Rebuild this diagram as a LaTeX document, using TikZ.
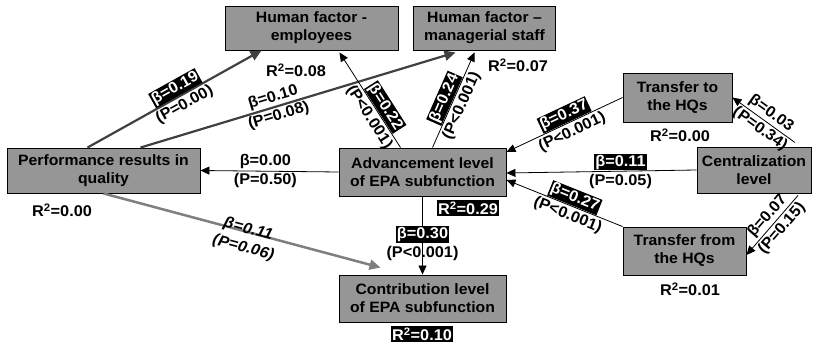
\documentclass[tikz,border=0pt]{standalone}
\usepackage{fontspec}
\setmainfont{Liberation Sans}[FakeStretch=1.05]
\usepackage{tikz}
\usetikzlibrary{arrows.meta}
\usepackage{xcolor}

\definecolor{boxgray}{HTML}{969696}
\definecolor{darkline}{HTML}{404040}
\definecolor{midline}{HTML}{7F7F7F}
\setlength{\fboxsep}{1pt}
\newcommand{\blk}[1]{\colorbox{black}{\textcolor{white}{#1}}}

\begin{document}
\begin{tikzpicture}[
    x=1pt, y=-1pt,
    font=\fontsize{15.5}{19}\selectfont\bfseries,
    var/.style={draw, fill=boxgray, line width=0.9pt, align=center, inner sep=0pt,
        minimum height=45pt, font=\fontsize{15}{18}\selectfont\bfseries},
    coef/.style={align=center, inner sep=0pt},
    tilt/.style={coef, sloped},
    rsq/.style={inner sep=1.5pt},
    rsqblk/.style={fill=black, text=white, inner sep=1.5pt},
    link/.style={line width=0.8pt, -{Triangle[length=9pt,width=8pt]}},
    strong/.style={draw=darkline, line width=2.2pt, -{Triangle[length=11pt,width=10pt]}},
    weak/.style={draw=midline, line width=2.5pt, -{Triangle[length=11pt,width=10pt]}}
]
\useasboundingbox (0,0) rectangle (818,347);

% Variables placed manually
\node[var, minimum width=173pt, minimum height=44pt] (emp) at (311.5,28) {Human factor -\\employees};
\node[var, minimum width=142pt, minimum height=44pt] (mgr) at (484.5,28) {Human factor –\\managerial staff};
\node[var, minimum width=193pt] (perf) at (103.5,170.5) {Performance results in\\quality};
\node[var, minimum width=167pt, minimum height=48pt] (adv) at (422.5,172) {Advancement level\\of EPA subfunction};
\node[var, minimum width=167pt, minimum height=47pt] (contrib) at (422.5,298.5) {Contribution level\\of EPA subfunction};
\node[var, minimum width=109pt, minimum height=49pt] (hqto) at (677.5,97.5) {Transfer to\\the HQs};
\node[var, minimum width=114pt, minimum height=46pt] (central) at (754,170) {Centralization\\level};
\node[var, minimum width=123pt, minimum height=48pt] (hqfrom) at (684.5,251) {Transfer from\\the HQs};

% R squared
\node[rsq] (r-emp) at (296,70) {R\textsuperscript{2}=0.08};
\node[rsq] (r-mgr) at (518,65) {R\textsuperscript{2}=0.07};
\node[rsq] (r-hqto) at (680,135) {R\textsuperscript{2}=0.00};
\node[rsq] (r-perf) at (62,210) {R\textsuperscript{2}=0.00};
\node[rsqblk] (r-adv) at (468,208) {R\textsuperscript{2}=0.29};
\node[rsqblk] (r-contrib) at (422,334) {R\textsuperscript{2}=0.10};
\node[rsq] (r-hqfrom) at (690,289) {R\textsuperscript{2}=0.01};

% Paths
\draw[strong] ([xshift=-16pt]perf.north) -- node[tilt, pos=0.53] {\blk{β=0.19}\\(P=0.00)} ([xshift=-50pt]emp.south);
\draw[strong] ([xshift=37pt]perf.north) -- node[tilt, pos=0.43] {β=0.10\\(P=0.08)} ([xshift=-29pt,yshift=-2pt]mgr.south);
\draw[link] ([xshift=-22pt]adv.north) -- node[tilt, pos=0.375] {\blk{β=0.22}\\(P<0.001)} ([xshift=28pt,yshift=-2pt]emp.south);
\draw[link] ([xshift=10pt]adv.north) -- node[tilt, pos=0.48] {\blk{β=0.24}\\(P<0.001)} ([xshift=-10pt,yshift=-2pt]mgr.south);
\draw[link] (adv.west) -- node[coef, pos=0.53] {β=0.00\\(P=0.50)} (perf.east);
\draw[link] (adv.south) -- node[coef, pos=0.6] {\blk{β=0.30}\\(P<0.001)} (contrib.north);
\draw[weak] (perf.south) -- node[tilt, pos=0.52, yshift=-7pt, font=\fontsize{15.5}{19}\selectfont\bfseries\itshape] {β=0.11\\(P=0.06)} ([xshift=-42pt,yshift=7pt]contrib.north);
\draw[link] (hqto.west) -- node[tilt, pos=0.47] {\blk{β=0.37}\\(P<0.001)} ([yshift=20pt]adv.east);
\draw[link] (central.west) -- node[coef, pos=0.4] {\blk{β=0.11}\\(P=0.05)} ([yshift=-1pt]adv.east);
\draw[link] (hqfrom.north west) -- node[tilt, pos=0.44] {\blk{β=0.27}\\(P<0.001)} ([yshift=-8pt]adv.east);
\draw[link] ([xshift=41pt,yshift=4pt]central.north) -- node[tilt, pos=0.47] {β=0.03\\(P=0.34)} (hqto.east);
\draw[link] ([xshift=44pt,yshift=-2pt]central.south) -- node[tilt, pos=0.45] {β=0.07\\(P=0.15)} ([yshift=-4pt]hqfrom.east);
\end{tikzpicture}
\end{document}
